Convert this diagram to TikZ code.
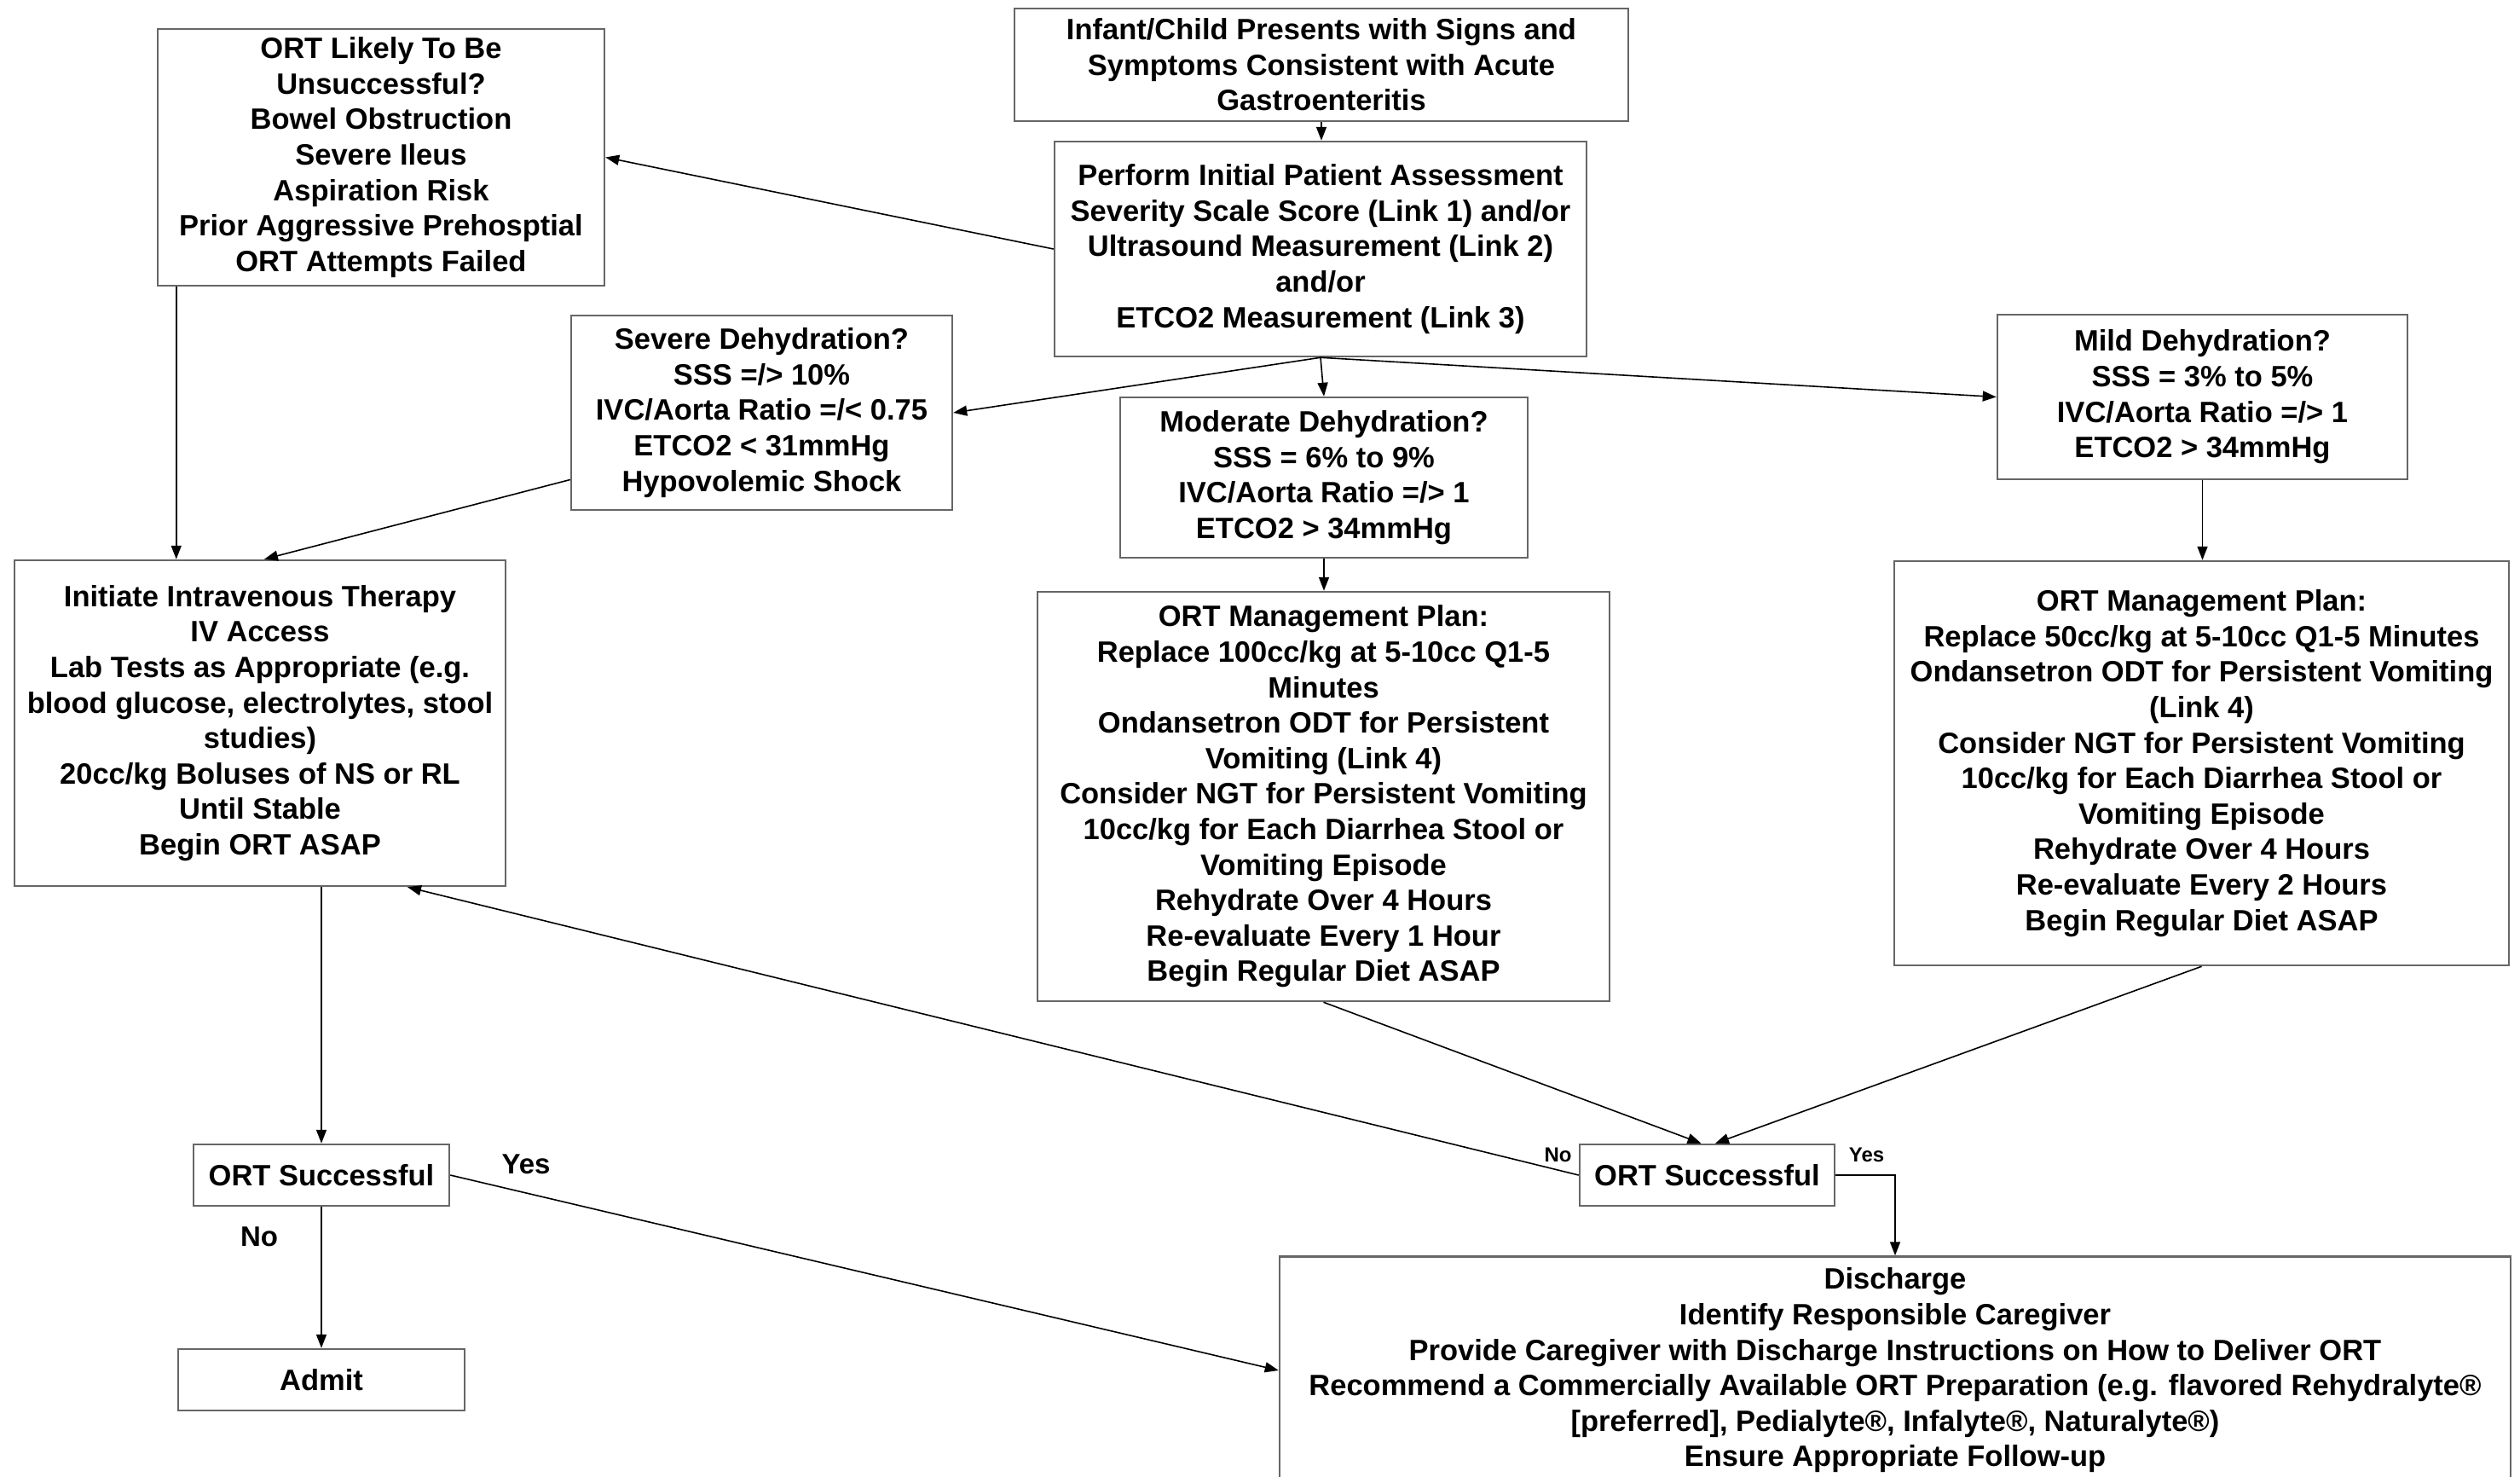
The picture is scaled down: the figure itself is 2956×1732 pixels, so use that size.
\documentclass[tikz,border=0pt]{standalone}
\usepackage{fontspec}
\setmainfont{Liberation Sans}
\usetikzlibrary{arrows.meta}
\begin{document}
\begin{tikzpicture}[x=1pt,y=-1pt,
  box/.style={draw=black!60, line width=2.5pt, fill=white, align=center, inner sep=0pt,
    font=\bfseries\fontsize{34.5}{41.6}\selectfont},
  arr/.style={line width=1.6pt, draw=black, -{Triangle[length=16pt,width=12pt]}},
  lab/.style={inner sep=0pt, font=\bfseries\fontsize{33}{40}\selectfont},
  slab/.style={inner sep=0pt, font=\bfseries\fontsize{24}{28}\selectfont}]
\clip (0,0) rectangle (2956,1732);
\fill[white] (0,0) rectangle (2956,1732);

\node[box, minimum width=720pt, minimum height=132pt] (top) at (1550,76)
  {Infant/Child Presents with Signs and\\Symptoms Consistent with Acute\\Gastroenteritis};
\node[box, minimum width=624pt, minimum height=252pt] (perf) at (1549,292)
  {Perform Initial Patient Assessment\\Severity Scale Score (Link 1) and/or\\Ultrasound Measurement (Link 2)\\and/or\\ETCO2 Measurement (Link 3)};
\node[box, minimum width=524pt, minimum height=301pt] (likely) at (447,184.5)
  {ORT Likely To Be\\Unsuccessful?\\Bowel Obstruction\\Severe Ileus\\Aspiration Risk\\Prior Aggressive Prehosptial\\ORT Attempts Failed};
\node[box, minimum width=447pt, minimum height=228pt] (sev) at (893.5,484)
  {Severe Dehydration?\\SSS =/> 10\%\\IVC/Aorta Ratio =/< 0.75\\ETCO2 < 31mmHg\\Hypovolemic Shock};
\node[box, minimum width=478pt, minimum height=188pt] (mod) at (1553,560)
  {Moderate Dehydration?\\SSS = 6\% to 9\%\\IVC/Aorta Ratio =/> 1\\ETCO2 > 34mmHg};
\node[box, minimum width=481pt, minimum height=193pt] (mild) at (2583.5,465.5)
  {Mild Dehydration?\\SSS = 3\% to 5\%\\IVC/Aorta Ratio =/> 1\\ETCO2 > 34mmHg};
\node[box, minimum width=576pt, minimum height=382pt] (iv) at (305,848)
  {Initiate Intravenous Therapy\\IV Access\\Lab Tests as Appropriate (e.g.\\blood glucose, electrolytes, stool\\studies)\\20cc/kg Boluses of NS or RL\\Until Stable\\Begin ORT ASAP};
\node[box, minimum width=671pt, minimum height=480pt] (modplan) at (1552.5,934)
  {ORT Management Plan:\\Replace 100cc/kg at 5-10cc Q1-5\\Minutes\\Ondansetron ODT for Persistent\\Vomiting (Link 4)\\Consider NGT for Persistent Vomiting\\10cc/kg for Each Diarrhea Stool or\\Vomiting Episode\\Rehydrate Over 4 Hours\\Re-evaluate Every 1 Hour\\Begin Regular Diet ASAP};
\node[box, minimum width=721pt, minimum height=474pt] (mildplan) at (2582.5,895)
  {ORT Management Plan:\\Replace 50cc/kg at 5-10cc Q1-5 Minutes\\Ondansetron ODT for Persistent Vomiting\\(Link 4)\\Consider NGT for Persistent Vomiting\\10cc/kg for Each Diarrhea Stool or\\Vomiting Episode\\Rehydrate Over 4 Hours\\Re-evaluate Every 2 Hours\\Begin Regular Diet ASAP};
\node[box, minimum width=300pt, minimum height=72pt] (ortL) at (377,1378) {ORT Successful};
\node[box, minimum width=336pt, minimum height=72pt] (admit) at (377,1618) {Admit};
\node[box, minimum width=299pt, minimum height=72pt] (ortR) at (2002.5,1378) {ORT Successful};
\node[box, minimum width=1444pt, minimum height=267pt] (dis) at (2223,1607)
  {Discharge\\Identify Responsible Caregiver\\Provide Caregiver with Discharge Instructions on How to Deliver ORT\\Recommend a Commercially Available ORT Preparation (e.g. flavored Rehydralyte®\\{[preferred]}, Pedialyte®, Infalyte®, Naturalyte®)\\Ensure Appropriate Follow-up};

\node[lab] (yesL) at (617,1365) {Yes};
\node[lab] (noL) at (304,1450) {No};
\node[slab] (noR) at (1827.5,1354) {No};
\node[slab] (yesR) at (2189.5,1354) {Yes};

\draw[arr] (top.south) -- (top.south |- perf.north);
\draw[arr] (perf.west) -- (likely.east);
\draw[arr] (perf.south) -- (sev.east);
\draw[arr] (perf.south) -- (mod.north);
\draw[arr] (perf.south) -- (mild.west);
\draw[arr] ([xshift=23pt]likely.south west) -- ([xshift=23pt]likely.south west |- iv.north);
\draw[arr] ([yshift=-78.5pt]sev.west) -- ([xshift=5pt]iv.north);
\draw[arr] (mod.south) -- (mod.south |- modplan.north);
\draw[arr] (mild.south) -- (mild.south |- mildplan.north);
\draw[arr] (ortL.north |- iv.south) -- (ortL.north);
\draw[arr] (modplan.south) -- ([xshift=-7pt]ortR.north);
\draw[arr] (mildplan.south) -- ([xshift=9.5pt]ortR.north);
\draw[arr] (ortR.west) -- ([xshift=173pt]iv.south);
\draw[arr] (ortR.east) -| (dis.north);
\draw[arr] (ortL.east) -- (dis.west);
\draw[arr] (ortL.south) -- (admit.north);
\end{tikzpicture}
\end{document}
